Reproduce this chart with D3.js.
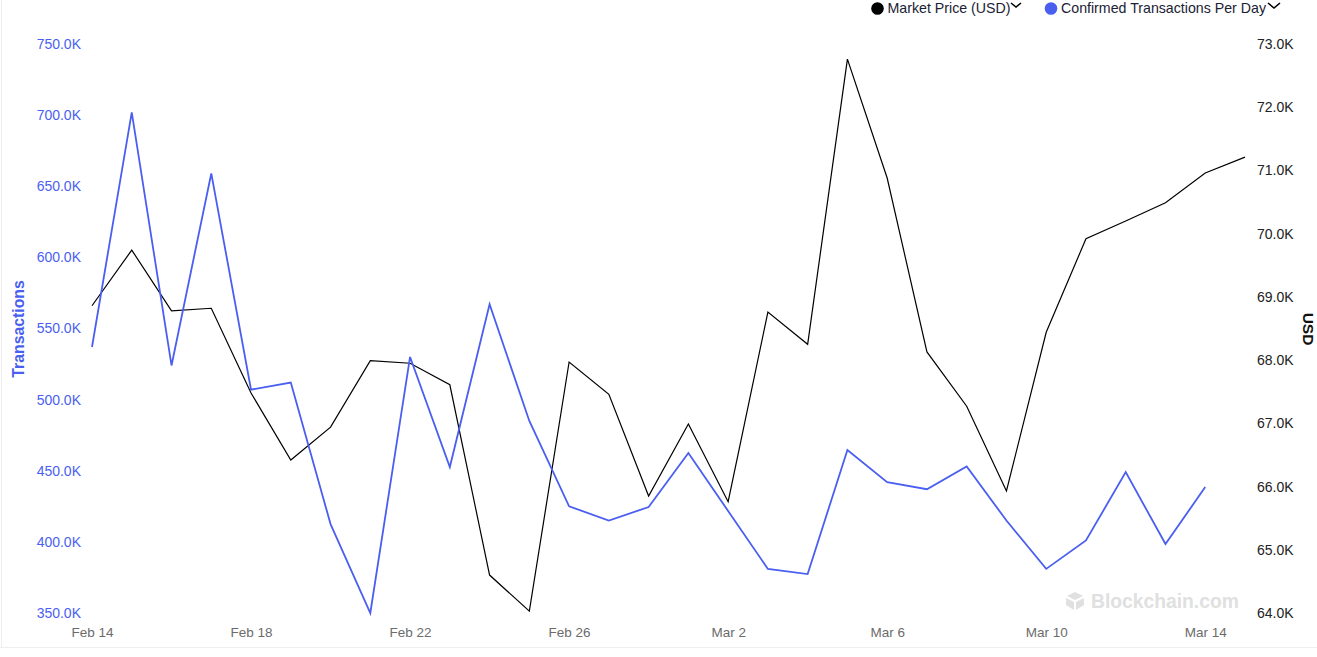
<!DOCTYPE html>
<html>
<head>
<meta charset="utf-8">
<script src="https://cdn.jsdelivr.net/npm/d3@7"></script>
<style>
  html, body { margin: 0; padding: 0; background: #fff; }
  svg { display: block; }
  text { font-family: "Liberation Sans", Arial, sans-serif; }
</style>
</head>
<body>
<div id="board"></div>
<script>
var days = ['Feb 14','Feb 15','Feb 16','Feb 17','Feb 18','Feb 19','Feb 20','Feb 21','Feb 22','Feb 23','Feb 24','Feb 25','Feb 26','Feb 27','Feb 28',
  'Mar 1','Mar 2','Mar 3','Mar 4','Mar 5','Mar 6','Mar 7','Mar 8','Mar 9','Mar 10','Mar 11','Mar 12','Mar 13','Mar 14','Mar 15'];
var dayTicks = ['Feb 14','Feb 18','Feb 22','Feb 26','Mar 2','Mar 6','Mar 10','Mar 14'];

// market price, USD thousands
var price = [68.86,69.74,68.78,68.82,67.48,66.42,66.94,67.99,67.95,67.61,64.60,64.03,67.97,67.46,65.85,
  66.99,65.76,68.76,68.25,72.76,70.88,68.13,67.27,65.93,68.44,69.92,70.2,70.49,70.96,71.21];
// confirmed transactions, thousands (no value for the last day)
var transactions = [537,702,524,659,507,512,412.5,350,530,452.6,567,485,425,415,424.5,
  462.5,421.7,381,377.4,464.6,442,437,453,415,381,401,449,398.5,438.5,null];

var txTicks = [350,400,450,500,550,600,650,700,750];
var priceTicks = [64,65,66,67,68,69,70,71,72,73];

var blue = '#4a5ff0';

var svg = d3.select('#board').append('svg')
  .attr('width',1317)
  .attr('height',657);

// page edges of the screenshot
svg.append('line').attr('x1',1.5).attr('x2',1.5).attr('y1',0).attr('y2',647).style('stroke','#eeeeee');
svg.append('line').attr('x1',0).attr('x2',1317).attr('y1',647.5).attr('y2',647.5).style('stroke','#eeeeee');

var x = d3.scalePoint().domain(days).range([92,1245]);
var yTx = d3.scaleLinear().domain([350,750]).range([613,44]);
var yPrice = d3.scaleLinear().domain([64,73]).range([613,44]);

var fmt = function(d){ return d3.format('.1f')(d)+'K'; };

var gx = svg.append('g').attr('transform','translate(0,633)')
  .call(d3.axisBottom(x).tickValues(dayTicks).tickSize(0).tickPadding(0));
gx.select('.domain').remove();
gx.selectAll('text').attr('dy','0.32em').style('font-size','13.5px').style('fill','#6b6b6b');

var gl = svg.append('g').attr('transform','translate(81,0)')
  .call(d3.axisLeft(yTx).tickValues(txTicks).tickFormat(fmt).tickSize(0).tickPadding(0));
gl.select('.domain').remove();
gl.selectAll('text').style('font-size','14px').style('fill',blue);

var gr = svg.append('g').attr('transform','translate(1257,0)')
  .call(d3.axisRight(yPrice).tickValues(priceTicks).tickFormat(fmt).tickSize(0).tickPadding(0));
gr.select('.domain').remove();
gr.selectAll('text').style('font-size','14px').style('fill','#222');

svg.append('text')
  .attr('transform','translate(24,329) rotate(-90)')
  .attr('text-anchor','middle')
  .style('font-size','15.8px').style('font-weight',700).style('fill',blue)
  .text('Transactions');

svg.append('text')
  .attr('transform','translate(1303,329) rotate(90)')
  .attr('text-anchor','middle')
  .style('font-size','15.5px').style('font-weight',700).style('fill','#111')
  .text('USD');

var lineTx = d3.line()
  .defined(function(d){ return d!==null; })
  .x(function(d,i){ return x(days[i]); })
  .y(function(d){ return yTx(d); });
var linePrice = d3.line()
  .x(function(d,i){ return x(days[i]); })
  .y(function(d){ return yPrice(d); });

svg.append('path').attr('d',linePrice(price))
  .style('fill','none').style('stroke','#000').style('stroke-width',1.2);
svg.append('path').attr('d',lineTx(transactions))
  .style('fill','none').style('stroke',blue).style('stroke-width',1.8);

// legend
var legend = svg.append('g');
function legendItem(cx,color,label,chev,big){
  legend.append('circle').attr('cx',cx).attr('cy',8.5).attr('r',6.3).style('fill',color);
  legend.append('text').attr('x',cx+10).attr('y',13).style('font-size','14.2px').style('fill','#1a2233').text(label);
  var w = big ? 6 : 5;
  legend.append('path').attr('d','M'+(chev-w)+',3 L'+chev+','+(big?8:7)+' L'+(chev+w)+',3')
    .style('fill','none').style('stroke','#000').style('stroke-width',1.6);
}
legendItem(877.5,'#000','Market Price (USD)',1016,false);
legendItem(1051,blue,'Confirmed Transactions Per Day',1274,true);

// watermark
var mark = svg.append('g').attr('transform','translate(1075,601)').style('fill','#e0e0e0');
mark.append('path').attr('d','M0,-9 L8,-5 L0,-1 L-8,-5 Z');
mark.append('path').attr('d','M-9,-3 L-1,1 L-1,9 L-9,4 Z');
mark.append('path').attr('d','M9,-3 L1,1 L1,9 L9,4 Z');
svg.append('text').attr('x',1091).attr('y',607.5)
  .style('font-size','19.3px').style('font-weight',700).style('fill','#e0e0e0')
  .text('Blockchain.com');
</script>
</body>
</html>
